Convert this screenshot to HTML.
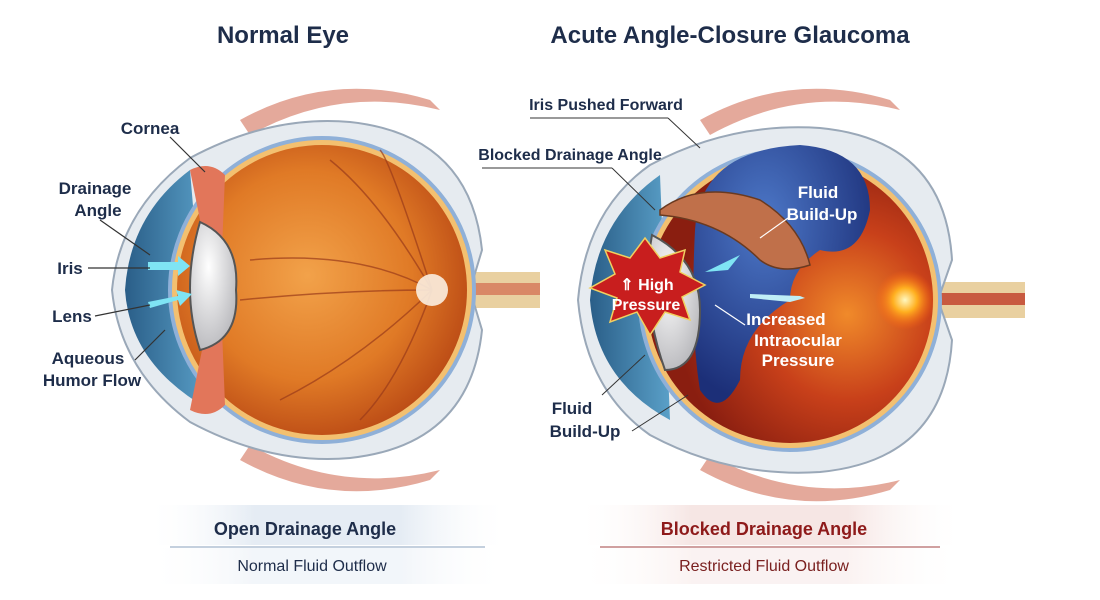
<!DOCTYPE html>
<html><head><meta charset="utf-8"><style>
html,body{margin:0;padding:0;background:#fff;width:1100px;height:600px;overflow:hidden}
svg{display:block}
text{font-family:"Liberation Sans",sans-serif;font-weight:bold;fill:#1e2d4a}
</style></head><body>
<svg width="1100" height="600" viewBox="0 0 1100 600">
<defs>
<radialGradient id="org" cx="0.45" cy="0.45" r="0.6">
<stop offset="0" stop-color="#f2a24a"/><stop offset="0.6" stop-color="#e07a26"/><stop offset="1" stop-color="#b84714"/></radialGradient>
<radialGradient id="org2" cx="0.7" cy="0.55" r="0.6">
<stop offset="0" stop-color="#f08a2a"/><stop offset="0.5" stop-color="#c8401a"/><stop offset="1" stop-color="#8a1e10"/></radialGradient>
<radialGradient id="lens" cx="0.4" cy="0.35" r="0.7">
<stop offset="0" stop-color="#ffffff"/><stop offset="1" stop-color="#b8b8bc"/></radialGradient>
<linearGradient id="blue" x1="0" x2="1"><stop offset="0" stop-color="#2a5e88"/><stop offset="1" stop-color="#5aa0c8"/></linearGradient>
<radialGradient id="fl" cx="0.4" cy="0.3" r="0.7"><stop offset="0" stop-color="#4d78c8"/><stop offset="1" stop-color="#1c2f78"/></radialGradient>
<linearGradient id="gl" x1="0" x2="1"><stop offset="0" stop-color="#fff" stop-opacity="0"/><stop offset="0.3" stop-color="#e5ecf4"/><stop offset="0.7" stop-color="#e5ecf4"/><stop offset="1" stop-color="#fff" stop-opacity="0"/></linearGradient>
<linearGradient id="rl" x1="0" x2="1"><stop offset="0" stop-color="#fff" stop-opacity="0"/><stop offset="0.3" stop-color="#f6e6e4"/><stop offset="0.7" stop-color="#f6e6e4"/><stop offset="1" stop-color="#fff" stop-opacity="0"/></linearGradient>
<radialGradient id="glow" r="0.5"><stop offset="0" stop-color="#fff8c0"/><stop offset="0.4" stop-color="#ffb020"/><stop offset="1" stop-color="#ff6010" stop-opacity="0"/></radialGradient>
</defs>

<text x="283" y="43" font-size="24" text-anchor="middle">Normal Eye</text>
<text x="730" y="43" font-size="24" text-anchor="middle">Acute Angle-Closure Glaucoma</text>

<!-- LEFT EYE -->
<path d="M240 120 Q330 70 430 100 L440 110 Q340 85 250 135Z" fill="#d98470" opacity="0.7"/>
<path d="M240 460 Q330 510 430 480 L440 470 Q340 495 250 445Z" fill="#d98470" opacity="0.7"/>
<rect x="460" y="272" width="80" height="36" fill="#e9d0a0"/>
<rect x="460" y="283" width="80" height="12" fill="#d98866"/>
<path d="M112 290 Q120 210 190 158 Q270 115 350 122 Q470 135 482 250 L470 290 L482 330 Q470 445 350 458 Q270 465 190 422 Q120 370 112 290Z" fill="#e6ebf0" stroke="#9aa8b8" stroke-width="2"/>
<path d="M125 290 Q130 215 190 170 L210 410 Q130 365 125 290Z" fill="url(#blue)"/>
<circle cx="322" cy="290" r="152" fill="#f3c070" stroke="#8fb0d8" stroke-width="4"/>
<circle cx="322" cy="290" r="145" fill="url(#org)"/>
<path d="M190 170 Q210 160 225 175 L222 250 L208 260 Z M190 410 Q210 420 225 405 L222 330 L208 320Z" fill="#e2765a"/>
<g stroke="#9a3a1a" stroke-width="1.5" fill="none" opacity="0.7">
<path d="M432 290 Q380 200 330 160 M432 290 Q360 250 250 260 M432 290 Q360 360 280 400 M432 290 Q400 380 360 420 M432 290 Q340 290 240 300 M432 290 Q390 160 380 150"/></g>
<circle cx="432" cy="290" r="16" fill="#fbeee0" opacity="0.9"/>
<path d="M200 222 Q240 240 236 290 Q240 340 200 350 Q180 290 200 222Z" fill="url(#lens)" stroke="#555" stroke-width="2"/>
<polygon points="148,262 178,262 178,256 190,266 178,276 178,270 148,270" fill="#7fe4f4"/>
<polygon points="148,302 178,296 176,290 192,294 180,306 178,300 150,308" fill="#7fe4f4"/>

<text x="150" y="134" font-size="17" text-anchor="middle">Cornea</text>
<line x1="170" y1="137" x2="205" y2="172" stroke="#333" stroke-width="1.2"/>
<text x="95" y="194" font-size="17" text-anchor="middle">Drainage</text>
<text x="98" y="216" font-size="17" text-anchor="middle">Angle</text>
<line x1="100" y1="220" x2="150" y2="255" stroke="#333" stroke-width="1.2"/>
<text x="70" y="274" font-size="17" text-anchor="middle">Iris</text>
<line x1="88" y1="268" x2="150" y2="268" stroke="#333" stroke-width="1.2"/>
<text x="72" y="322" font-size="17" text-anchor="middle">Lens</text>
<line x1="95" y1="316" x2="150" y2="305" stroke="#333" stroke-width="1.2"/>
<text x="88" y="364" font-size="17" text-anchor="middle">Aqueous</text>
<text x="92" y="386" font-size="17" text-anchor="middle">Humor Flow</text>
<line x1="135" y1="360" x2="165" y2="330" stroke="#333" stroke-width="1.2"/>

<!-- RIGHT EYE -->
<path d="M700 120 Q790 70 890 100 L900 110 Q800 85 710 135Z" fill="#d98470" opacity="0.7"/>
<path d="M700 470 Q790 520 890 490 L900 480 Q800 505 710 455Z" fill="#d98470" opacity="0.7"/>
<rect x="930" y="282" width="95" height="36" fill="#e9d0a0"/>
<rect x="930" y="293" width="95" height="12" fill="#c85a40"/>
<path d="M578 300 Q586 210 650 165 Q730 122 820 128 Q945 140 952 260 L938 300 L952 340 Q945 460 820 472 Q730 478 650 435 Q586 390 578 300Z" fill="#e6ebf0" stroke="#9aa8b8" stroke-width="2"/>
<path d="M590 300 Q596 220 660 175 L670 420 Q596 380 590 300Z" fill="url(#blue)"/>
<circle cx="790" cy="300" r="150" fill="#f3c070" stroke="#8fb0d8" stroke-width="4"/>
<circle cx="790" cy="300" r="143" fill="url(#org2)"/>
<path d="M695 230 Q700 150 800 145 Q870 150 870 210 Q860 260 820 250 Q790 270 790 300 Q740 330 740 380 Q720 420 700 390 Q690 330 695 230Z" fill="url(#fl)"/>
<circle cx="905" cy="300" r="30" fill="url(#glow)"/>
<path d="M660 210 Q700 180 760 200 Q800 225 810 265 Q780 275 760 260 Q720 220 660 215Z" fill="#c0704a" stroke="#6a3a20" stroke-width="1.5"/>
<path d="M652 235 Q700 260 700 310 Q700 370 665 370 Q640 300 652 235Z" fill="url(#lens)" stroke="#555" stroke-width="2"/>
<polygon points="645,238 660,258 685,250 680,272 705,285 682,297 690,320 665,312 650,335 637,312 610,322 617,298 590,288 615,274 605,250 630,258" fill="#c81e1e" stroke="#f0d060" stroke-width="1.5"/>
<text x="647" y="290" font-size="16" text-anchor="middle" style="fill:#fff">⇑ High</text>
<text x="646" y="310" font-size="16" text-anchor="middle" style="fill:#fff">Pressure</text>
<polygon points="705,272 740,255 728,270" fill="#7fe4f4"/>
<polygon points="750,294 800,296 790,292 805,298 790,302 750,298" fill="#bfeef6"/>
<text x="818" y="198" font-size="17" text-anchor="middle" style="fill:#fff">Fluid</text>
<text x="822" y="220" font-size="17" text-anchor="middle" style="fill:#fff">Build-Up</text>
<line x1="788" y1="218" x2="760" y2="238" stroke="#fff" stroke-width="1.2"/>
<text x="786" y="325" font-size="17" text-anchor="middle" style="fill:#fff">Increased</text>
<text x="798" y="346" font-size="17" text-anchor="middle" style="fill:#fff">Intraocular</text>
<text x="798" y="366" font-size="17" text-anchor="middle" style="fill:#fff">Pressure</text>
<line x1="715" y1="305" x2="745" y2="325" stroke="#fff" stroke-width="1.2"/>

<text x="606" y="110" font-size="16" text-anchor="middle">Iris Pushed Forward</text>
<line x1="530" y1="118" x2="668" y2="118" stroke="#333" stroke-width="1"/>
<line x1="668" y1="118" x2="700" y2="148" stroke="#333" stroke-width="1"/>
<text x="570" y="160" font-size="16" text-anchor="middle">Blocked Drainage Angle</text>
<line x1="482" y1="168" x2="612" y2="168" stroke="#333" stroke-width="1"/>
<line x1="612" y1="168" x2="655" y2="210" stroke="#333" stroke-width="1"/>
<text x="572" y="414" font-size="17" text-anchor="middle">Fluid</text>
<text x="585" y="437" font-size="17" text-anchor="middle">Build-Up</text>
<line x1="602" y1="395" x2="645" y2="355" stroke="#333" stroke-width="1"/>
<line x1="632" y1="431" x2="688" y2="395" stroke="#333" stroke-width="1"/>

<!-- BOTTOM -->
<rect x="145" y="505" width="365" height="40" fill="url(#gl)"/>
<rect x="145" y="548" width="365" height="36" fill="url(#gl)" opacity="0.5"/>
<line x1="170" y1="547" x2="485" y2="547" stroke="#b0c0d4" stroke-width="1.5"/>
<text x="305" y="535" font-size="18" text-anchor="middle">Open Drainage Angle</text>
<text x="312" y="571" font-size="16" text-anchor="middle" style="font-weight:normal">Normal Fluid Outflow</text>
<rect x="575" y="505" width="390" height="40" fill="url(#rl)"/>
<rect x="575" y="548" width="390" height="36" fill="url(#rl)" opacity="0.5"/>
<line x1="600" y1="547" x2="940" y2="547" stroke="#c08080" stroke-width="1.5"/>
<text x="764" y="535" font-size="18" text-anchor="middle" style="fill:#8e1a1a">Blocked Drainage Angle</text>
<text x="764" y="571" font-size="16" text-anchor="middle" style="fill:#7a2020;font-weight:normal">Restricted Fluid Outflow</text>
</svg>
</body></html>
